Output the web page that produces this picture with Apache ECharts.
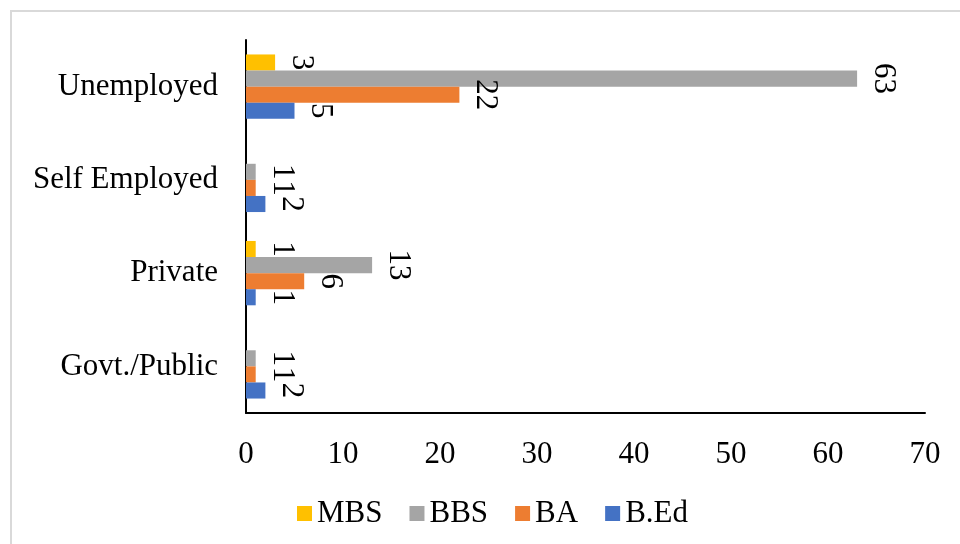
<!DOCTYPE html>
<html style="height: 100%">
    <head>
        <meta charset="utf-8">
    </head>
    <body style="height: 100%; margin: 0">
        <div id="container" style="height: 544px; width: 960px;"></div>

        <script type="text/javascript" src="https://cdn.jsdelivr.net/npm/echarts@6/dist/echarts.min.js"></script>
        <script type="text/javascript">
var dom = document.getElementById("container");
var myChart = echarts.init(dom);

// bottom to top, as drawn on the axis
var categories = ["Govt./Public", "Private", "Self Employed", "Unemployed"];

var mbsData = ['-', 1, '-', 3];   // no bar for Govt./Public and Self Employed
var bbsData = [1, 13, 1, 63];
var baData = [1, 6, 1, 22];
var bedData = [2, 1, 2, 5];

var xTicks = [0, 70, 10];  // min, max, interval

const FONT = "'Liberation Serif', 'Times New Roman', serif";

function makeSeries(name, data, color) {
	return {
		name: name,
		type: 'bar',
		data: data,
		barGap: '0%',
		barCategoryGap: '31%',
		itemStyle: {color: color},
		label: {
			show: true,
			position: 'right',
			distance: 26,
			rotate: -90,
			align: 'center',
			verticalAlign: 'middle',
			fontFamily: FONT,
			fontSize: 31,
			color: '#000'
		}
	};
}

var option = {
	animation: false,
	textStyle: {fontFamily: FONT},
	graphic: [{
		type: 'rect',
		shape: {x: 11, y: 11, width: 960, height: 544},
		style: {fill: 'none', stroke: '#d9d9d9', lineWidth: 2},
		silent: true
	}],
	grid: {left: 246, right: 35, top: 40, bottom: 131},
	legend: {
		bottom: 10,
		left: 292,
		data: ['MBS', 'BBS', 'BA', 'B.Ed'],
		icon: 'rect',
		itemWidth: 15,
		itemHeight: 15,
		itemGap: 27,
		textStyle: {fontFamily: FONT, fontSize: 31, color: '#000'}
	},
	xAxis: {
		type: 'value',
		min: xTicks[0],
		max: xTicks[1],
		interval: xTicks[2],
		splitLine: {show: false},
		axisTick: {show: false},
		axisLine: {show: true, lineStyle: {color: '#000', width: 2}},
		axisLabel: {fontFamily: FONT, fontSize: 31, color: '#000', margin: 26}
	},
	yAxis: {
		type: 'category',
		data: categories,
		axisTick: {show: false},
		axisLine: {lineStyle: {color: '#000', width: 2}},
		axisLabel: {fontFamily: FONT, fontSize: 31, color: '#000', margin: 28}
	},
	series: [
		makeSeries('MBS', mbsData, '#FFC000'),
		makeSeries('BBS', bbsData, '#A5A5A5'),
		makeSeries('BA', baData, '#ED7D31'),
		makeSeries('B.Ed', bedData, '#4472C4')
	]
};

myChart.setOption(option);
        </script>
    </body>
</html>
